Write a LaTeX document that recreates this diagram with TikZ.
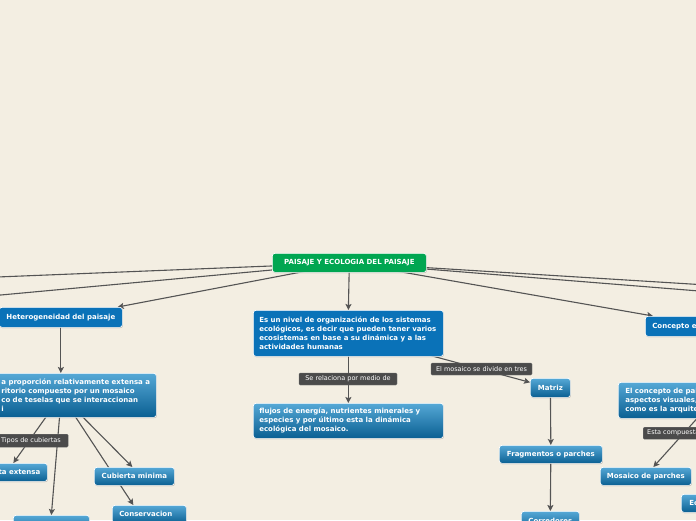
\documentclass[tikz,border=0pt]{standalone}
\usepackage{fontspec}
\setmainfont{DejaVu Sans}
\usetikzlibrary{arrows.meta,shadows}
\definecolor{bgc}{HTML}{F3EEE2}
\definecolor{flatblue}{HTML}{0A72B8}
\definecolor{gtop}{HTML}{55A8D6}
\definecolor{gbot}{HTML}{0A5F92}
\definecolor{greenc}{HTML}{00A651}
\definecolor{labgray}{HTML}{4B4B4B}
\definecolor{linegray}{HTML}{545454}
\pgfdeclarelayer{background}
\pgfsetlayers{background,main}
\tikzset{
  mmbox/.style={draw=white, line width=0.7pt, rounded corners=2.5pt, text=white,
    font=\bfseries\fontsize{7}{9}\selectfont, inner sep=0pt, anchor=north west,
    drop shadow={shadow xshift=0.5pt, shadow yshift=-0.7pt, opacity=0.3, fill=black}},
  flat/.style={mmbox, fill=flatblue},
  grad/.style={mmbox, top color=gtop, bottom color=gbot},
  lab/.style={fill=labgray, draw=black!55, line width=0.3pt, rounded corners=1.2pt, text=white,
    font=\fontsize{6.5}{8}\selectfont, inner sep=0pt},
  conn/.style={draw=linegray, line width=1.1pt},
  arrw/.style={conn, -{Stealth[length=6pt,width=6pt,inset=1.2pt]}},
}
\begin{document}
\begin{tikzpicture}[x=1pt,y=-1pt]
\useasboundingbox (0,0) rectangle (696,520);
\begin{pgfonlayer}{background}
\fill[bgc] (0,0) rectangle (696,520);
\end{pgfonlayer}

% central
\node[mmbox, fill=greenc, minimum width=154pt, minimum height=19pt] (central) at (272,253)
  {PAISAJE Y ECOLOGIA DEL PAISAJE};

% left branch
\node[flat, minimum width=123pt, minimum height=20pt] (hetero) at (-1,307) {Heterogeneidad del paisaje};
\node[grad, text width=180pt, inner xsep=5pt, align=flush left, minimum height=44pt] (big) at (-34,373)
  {\hspace*{30pt}a proporción relativamente extensa a\\
   \hspace*{30pt}ritorio compuesto por un mosaico\\
   \hspace*{30pt}co de teselas que se interaccionan\\
   \hspace*{30pt}i};
\node[lab, anchor=north west, text width=64pt, inner xsep=3pt, align=flush left, minimum height=13pt] (tipos) at (-2,434) {Tipos de cubiertas};
\node[grad, text width=65pt, inner xsep=7pt, align=flush right, minimum height=18pt] (taext) at (-32,463) {ta extensa};
\node[grad, minimum width=76pt, minimum height=20pt] (bl) at (13,515) {};
\node[grad, minimum width=80pt, minimum height=18pt] (cm) at (94,467) {Cubierta minima};
\node[grad, text width=60pt, inner xsep=7pt, align=flush left, minimum height=18pt] (cons) at (112,505) {Conservacion};

% middle branch
\node[flat, text width=178pt, inner xsep=6pt, align=flush left, minimum height=46pt] (es) at (253,310)
  {Es un nivel de organización de los sistemas\\
   ecológicos, es decir que pueden tener varios\\
   ecosistemas en base a su dinámica y a las\\
   actividades humanas};
\node[grad, text width=178pt, inner xsep=6pt, align=flush left, minimum height=35pt] (flujos) at (253,403)
  {flujos de energía, nutrientes minerales y\\
   especies y por último esta la dinámica\\
   ecológica del mosaico.};
\node[lab, minimum width=98pt, minimum height=12pt] (lrel) at (348,379) {Se relaciona por medio de};
\node[lab, minimum width=101pt, minimum height=12pt] (ldiv) at (481.5,369) {El mosaico se divide en tres};
\node[grad, minimum width=40pt, minimum height=19pt] (matriz) at (530,378) {Matriz};
\node[grad, minimum width=103pt, minimum height=18pt] (frag) at (499,445) {Fragmentos o parches};
\node[grad, minimum width=58pt, minimum height=20pt] (corr) at (521,511) {Corredores};

% right branch
\node[flat, text width=96pt, inner xsep=7pt, align=flush left, minimum height=20pt] (concepto) at (645,316) {Concepto e};
\node[grad, text width=176pt, inner xsep=7pt, align=flush left, minimum height=36pt] (elc) at (618,382)
  {El concepto de paisaje\\
   aspectos visuales,\\
   como es la arquitectura};
\node[lab, anchor=north west, text width=66pt, inner xsep=4pt, align=flush left, minimum height=12pt] (lcomp) at (643,427) {Esta compuesta};
\node[grad, minimum width=91pt, minimum height=18pt] (mosaico) at (600,467) {Mosaico de parches};
\node[grad, text width=46pt, inner xsep=8pt, align=flush left, minimum height=18pt] (ec) at (681,494) {Ec};

% off-page targets
\coordinate (offL1) at (-60,279.3);
\coordinate (offL2) at (-60,300.6);
\coordinate (offR1) at (760,288.3);
\coordinate (offR2) at (760,295.9);

\begin{pgfonlayer}{background}
\draw[conn] (central.center) -- (offL1);
\draw[conn] (central.center) -- (offL2);
\draw[conn] (central.center) -- (offR1);
\draw[conn] (central.center) -- (offR2);
\draw[arrw] (central.center) -- ([xshift=-5pt]hetero.north east);
\draw[arrw] (central.center) -- (es.north);
\draw[arrw] (central.center) -- ([xshift=8pt]concepto.north west);
\draw[arrw] (es.center) -- (flujos.north);
\draw[arrw] (es.center) -- ([yshift=5.5pt]matriz.west);
\draw[arrw] (matriz.center) -- (frag.north);
\draw[arrw] (frag.center) -- (corr.north);
\draw[arrw] (hetero.center) -- (hetero.center |- big.north);
\draw[arrw] (big.center) -- ([xshift=5.5pt]taext.north);
\draw[arrw] (big.center) -- (bl.north);
\draw[arrw] (big.center) -- ([xshift=-2pt]cm.north);
\draw[arrw] (big.center) -- ([xshift=-16pt]cons.north);
\draw[arrw] (elc.center) -- ([xshift=7.5pt]mosaico.north);
\end{pgfonlayer}
\end{tikzpicture}
\end{document}
